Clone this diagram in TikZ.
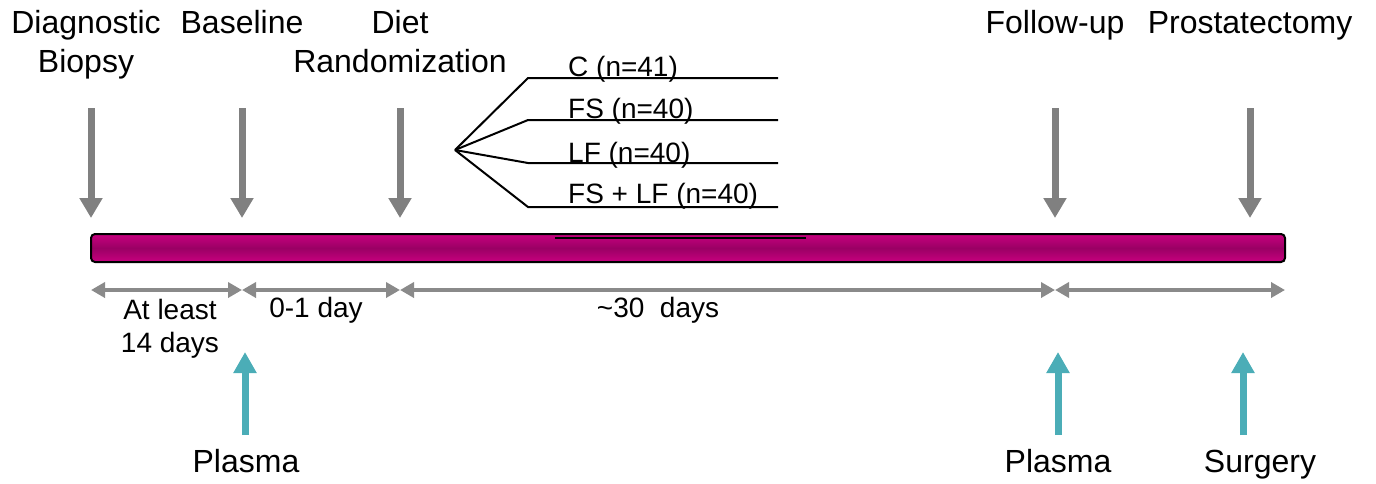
\documentclass[tikz,border=0pt]{standalone}
\usepackage{fontspec}
\setmainfont{Liberation Sans}
\usetikzlibrary{arrows.meta}

\definecolor{barpink}{HTML}{C8007F}
\definecolor{bardark}{HTML}{9A0064}
\definecolor{eventgray}{HTML}{808080}
\definecolor{spangray}{HTML}{8A8A8A}
\definecolor{sampleteal}{HTML}{4BADB7}

\begin{document}
\begin{tikzpicture}[x=1pt,y=-1pt,font=\fontsize{32}{39}\selectfont]
    \tikzstyle{event}=[draw=eventgray, line width=7pt,
        -{Triangle[width=22pt,length=20pt]}]
    \tikzstyle{sample}=[draw=sampleteal, line width=7pt,
        -{Triangle[width=22pt,length=21pt]}]
    \tikzstyle{span}=[draw=spangray, line width=3.5pt,
        {Triangle[width=15pt,length=14pt]}-{Triangle[width=15pt,length=14pt]}]
    \tikzstyle{branch}=[draw=black, line width=2pt]
    \tikzstyle{label}=[anchor=base, inner sep=0pt, align=center]
    \tikzstyle{armlabel}=[anchor=base west, inner sep=0pt,
        font=\fontsize{28}{32}\selectfont]
    \tikzstyle{spanlabel}=[anchor=base, align=center, inner sep=0pt,
        font=\fontsize{28}{33}\selectfont]

    \useasboundingbox (0,0) rectangle (1376,483);

    % Timeline bar
    \node[draw=black, line width=2pt, rounded corners=4pt,
        minimum width=1194pt, minimum height=28pt, inner sep=0pt,
        top color=barpink, bottom color=barpink, middle color=bardark]
        (timeline) at (688,248) {};
    \draw[line width=2pt] (555,238) -- (806,238);

    % Events (base = last line)
    \node[label] (biopsy) at (86,72) {Diagnostic\\Biopsy};
    \node[label] (baseline) at (242,33) {Baseline};
    \node[label] (diet) at (400,72) {Diet\\Randomization};
    \node[label] (followup) at (1055,33) {Follow-up};
    \node[label] (prostatectomy) at (1250,33) {Prostatectomy};

    \coordinate (e1) at (91,108);   \coordinate (t1) at (91,218);
    \coordinate (e2) at (242,108);  \coordinate (t2) at (242,218);
    \coordinate (e3) at (400,108);  \coordinate (t3) at (400,218);
    \coordinate (e4) at (1055,108); \coordinate (t4) at (1055,218);
    \coordinate (e5) at (1250,108); \coordinate (t5) at (1250,218);
    \foreach \i in {1,...,5}
        \draw[event] (e\i) -- (t\i);

    % Diet arms
    \coordinate (fork) at (455,150);
    \foreach \i/\y/\b/\txt in {1/78/76/C (n=41), 2/120/118/FS (n=40),
        3/163/162/LF (n=40), 4/207/203/FS + LF (n=40)} {
        \coordinate (arm\i) at (528,\y);
        \coordinate (armend\i) at (778,\y);
        \draw[branch] (fork) -- (arm\i) -- (armend\i);
        \node[armlabel] (armlabel\i) at (568,\b) {\txt};
    }

    % Intervals
    \coordinate (d0) at (91,290);
    \coordinate (d1) at (242,290);
    \coordinate (d2) at (400,290);
    \coordinate (d3) at (1055,290);
    \coordinate (d4) at (1285,290);
    \draw[span] (d0) -- (d1);
    \draw[span] (d1) -- (d2);
    \draw[span] (d2) -- (d3);
    \draw[span] (d3) -- (d4);
    \node[spanlabel] (least) at (170,352) {At least\\14 days};
    \node[spanlabel] (oneday) at (316,317) {0-1 day};
    \node[spanlabel] (thirty) at (658,317) {\textasciitilde30\ \ days};

    % Samples
    \node[label] (plasma1) at (246,472) {Plasma};
    \node[label] (plasma2) at (1058,472) {Plasma};
    \node[label] (surgery) at (1260,472) {Surgery};
    \coordinate (s1) at (245,435);  \coordinate (p1) at (245,352);
    \coordinate (s2) at (1058,435); \coordinate (p2) at (1058,352);
    \coordinate (s3) at (1243,435); \coordinate (p3) at (1243,352);
    \foreach \i in {1,2,3}
        \draw[sample] (s\i) -- (p\i);
\end{tikzpicture}
\end{document}
